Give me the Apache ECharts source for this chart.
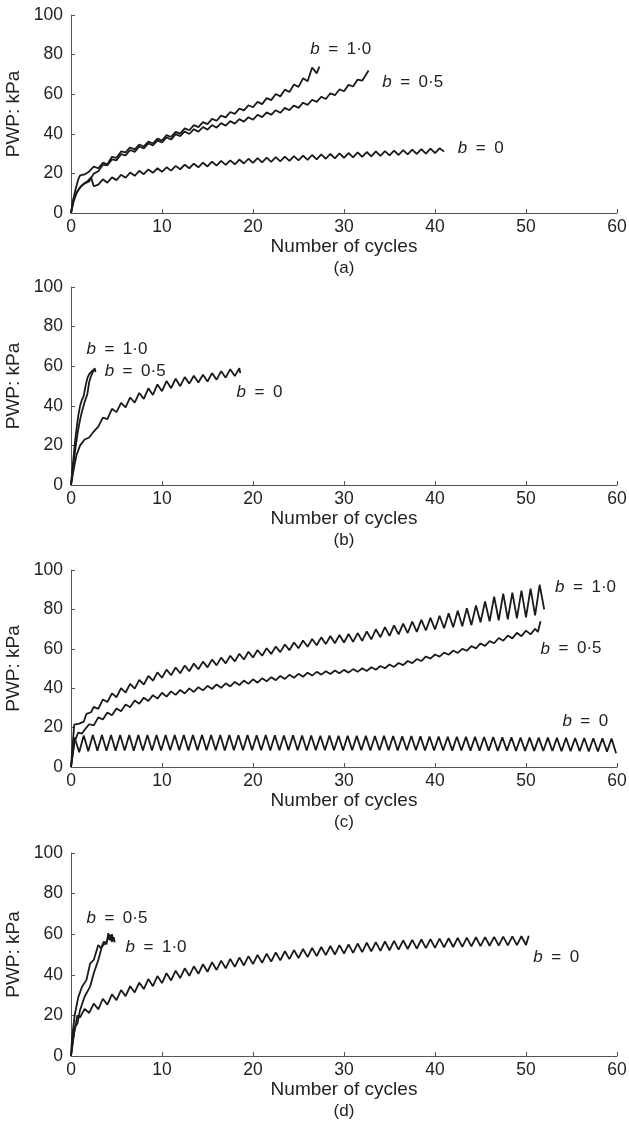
<!DOCTYPE html>
<html>
<head>
<meta charset="utf-8">
<script src="https://cdn.jsdelivr.net/npm/echarts@6/dist/echarts.min.js"></script>
<style>
html,body{margin:0;padding:0;background:#fff;}
#chart{width:629px;height:1128px;}
</style>
</head>
<body>
<div id="chart"></div>
<script>
// ---------- axis / tick data ----------
const X_MIN = 0, X_MAX = 60, X_STEP = 10;
const Y_MIN = 0, Y_MAX = 100, Y_STEP = 20;
const X_NAME = 'Number of cycles';
const Y_NAME = 'PWP: kPa';
const CAPTIONS = ['(a)', '(b)', '(c)', '(d)'];

// ---------- series data ----------
// each series: head points [x,y], then half-cycle samples starting at x0, then tail points
// Panel (a)
const A_B10_HEAD = [[0,0],[0.2,6],[0.5,12],[0.8,17],[1.0,19],[1.5,19.5],[2.0,21]];
const A_B10_X0 = 2.5;
const A_B10 = [23.4,22.6,25.4,24.6,28.4,27.9,31.1,30.6,33.1,32.1,34.6,33.6,36.1,35.1,37.6,36.6,39.3,38.4,41.0,40.1,
  42.7,41.8,44.4,43.4,45.9,44.9,47.5,46.6,49.2,48.3,51.0,50.1,52.7,51.8,54.4,53.4,56.1,55.0,58.0,57.0,
  60.1,58.9,62.3,61.1,64.9,63.7,68.0,66.5,73.5,70.5];
const A_B10_TAIL = [[27.3,74]];

const A_B05_HEAD = [[0,0],[0.3,6],[0.6,10],[1,13],[1.5,15],[2,16]];
const A_B05_X0 = 2.5;
const A_B05 = [19.9,21.1,24.4,24.1,27.1,26.6,29.7,29.1,31.8,30.9,33.6,32.6,35.2,34.1,36.7,35.6,38.2,37.1,39.8,38.8,
  41.2,39.9,42.3,41.1,43.4,42.1,44.4,43.1,45.4,44.1,46.4,45.1,47.4,46.1,48.4,47.1,49.6,48.4,50.8,49.6,
  51.9,50.6,53.1,51.9,54.3,53.1,55.7,54.6,57.2,56.1,58.7,57.6,60.5,59.5,62.4,61.5,64.7,63.9,67.4,66.8,70.5];
const A_B05_TAIL = [[32.7,72]];

const A_B0_HEAD = [[0,0],[0.3,7],[0.7,11],[1.2,14],[1.8,16],[2.2,18],[2.5,13.5]];
const A_B0_X0 = 3.0;
const A_B0 = [14.3,17.0,15.3,18.0,16.6,19.3,17.8,20.4,18.8,21.3,19.6,22.0,20.3,22.6,20.8,23.1,21.4,23.8,22.1,24.4,
  22.6,24.9,23.1,25.4,23.5,25.9,23.9,26.3,24.3,26.6,24.6,27.0,25.0,27.4,25.3,27.7,25.6,28.0,25.8,28.2,
  26.1,28.5,26.3,28.7,26.6,29.0,26.8,29.3,27.1,29.6,27.4,29.8,27.6,30.1,27.9,30.3,28.1,30.6,28.4,30.8,
  28.6,31.1,28.9,31.3,29.1,31.5,29.3,31.8,29.6,32.0,29.8,32.2,30.0,32.5,30.3,32.7,31.0];
const A_B0_TAIL = [];

// Panel (b)
const B_B10_HEAD = [[0,0],[0.2,10],[0.4,20],[0.6,28],[0.8,35],[1.0,40],[1.2,43],[1.4,45],[1.6,50],[1.8,54],[2.0,56],[2.2,55.5],[2.4,58],[2.5,57.5]];
const B_B05_HEAD = [[0,0],[0.25,10],[0.5,19],[0.75,27],[1.0,33],[1.2,37],[1.5,42],[1.8,46],[2.0,52],[2.2,55],[2.4,56],[2.6,59],[2.7,57]];
const B_B0_HEAD = [[0,0],[0.3,8],[0.6,15],[1,20],[1.5,23],[2,24],[2.5,27],[3,29.5]];
const B_B0_X0 = 3.5;
const B_B0 = [34.0,33.3,38.5,36.8,41.5,39.2,44.2,41.6,46.5,43.5,48.8,45.5,50.8,47.4,52.5,48.9,53.7,49.9,54.5,51.2,
  55.2,51.8,55.7,52.3,56.5,53.2,57.5,54.2,58.5,55.0,59.0];
const B_B0_TAIL = [[18.6,56.5]];

// Panel (c)
const C_B10_HEAD = [[0,0],[0.35,21.5],[0.9,22],[1.4,23],[1.7,27],[2.2,27.8]];
const C_B10_X0 = 2.5;
const C_B10 = [30.5,29.5,34.3,33.0,37.4,35.4,40.0,37.8,42.2,39.8,44.2,41.8,46.2,43.8,48.0,45.3,49.4,46.6,50.5,47.6,
  51.5,48.6,52.5,49.6,53.5,50.6,54.5,51.6,55.5,52.6,56.5,53.6,57.5,54.6,58.5,55.6,59.4,56.5,60.3,57.4,
  61.2,58.3,62.2,59.3,63.2,60.3,64.2,61.0,65.0,61.8,65.8,62.4,66.5,62.8,67.0,63.2,67.5,63.5,68.0,64.0,
  68.8,64.8,69.9,65.9,71.0,66.6,71.9,67.3,72.8,68.0,73.8,68.6,74.7,69.3,75.7,69.8,76.8,70.4,78.0,70.9,
  79.3,71.4,80.6,72.0,82.0,73.5,84.0,74.0,86.5,74.5,88.0,75.0,88.5,75.5,89.5,76.0,90.5,77.0,92.5,80.0];
const C_B10_TAIL = [];

const C_B05_HEAD = [[0,0],[0.4,13],[0.8,17.5],[1.2,17],[1.6,19.5]];
const C_B05_X0 = 2.0;
const C_B05 = [21.7,21.1,25.2,24.1,27.7,26.3,29.7,28.3,31.7,30.3,33.7,32.1,35.2,33.5,36.5,34.7,37.7,35.7,38.4,36.6,
  39.1,37.3,39.9,38.1,40.5,38.9,41.2,39.6,41.9,40.2,42.5,40.9,43.2,41.6,43.9,42.2,44.5,42.8,45.0,43.5,
  45.6,44.1,46.2,44.7,46.8,45.3,47.3,45.8,47.9,46.4,48.3,46.9,48.6,47.2,49.0,47.6,49.3,47.9,49.7,48.3,
  50.1,48.7,50.6,49.4,51.3,50.1,52.0,50.8,52.8,51.7,53.8,52.7,54.8,53.8,56.1,55.0,57.1,56.0,58.1,57.0,
  59.1,57.9,60.0,59.0,61.4,60.2,62.7,61.5,63.9,62.8,65.5,64.1,66.7,65.3,68.1,66.4,69.2,67.3,70.2];
const C_B05_TAIL = [[51.3,68.5],[51.6,74]];

const C_B0_HEAD = [[0,0]];
const C_B0_X0 = 0.4;
const C_B0 = [15.0,7.5,16.0,8.0,16.2,8.2,16.3,8.3,16.2,8.3,16.3,8.4,16.2,8.3,16.3,8.4,16.2,8.4,16.3,8.4,
  16.2,8.5,16.3,8.5,16.2,8.4,16.3,8.5,16.2,8.5,16.3,8.5,16.2,8.4,16.2,8.5,16.1,8.5,16.2,8.5,
  16.1,8.5,16.2,8.4,16.1,8.5,16.0,8.5,16.1,8.5,16.0,8.4,16.0,8.5,15.9,8.5,16.0,8.5,15.9,8.4,
  15.9,8.5,15.8,8.5,15.8,8.4,15.7,8.5,15.8,8.5,15.7,8.4,15.6,8.5,15.7,8.5,15.6,8.4,15.5,8.4,
  15.5,8.4,15.4,8.3,15.4,8.4,15.3,8.3,15.3,8.3,15.2,8.3,15.2,8.2,15.1,8.3,15.1,8.2,15.0,8.2,
  15.0,8.2,14.9,8.1,14.9,8.1,14.8,8.0,14.8,8.0,14.7,8.0,14.7,7.9,14.6,7.9,14.6,7.8,14.5,7.0];
const C_B0_TAIL = [];

// Panel (d)
const D_B05_HEAD = [[0,0],[0.1,8],[0.4,20],[0.8,29],[1.2,34],[1.7,37.5],[2.1,45.5],[2.5,47.3],[3.0,54.7],[3.3,53],[3.6,56.3],[3.9,55],[4.1,60.5],[4.3,57],[4.5,60],[4.65,56.5]];
const D_B10_HEAD = [[0,0],[0.4,14],[0.7,16],[1.0,22.7],[1.5,29.3],[2.1,34.2],[2.5,40.8],[3.0,47.3],[3.4,53.9],[3.9,56.3],[4.3,59.6],[4.5,56.3],[4.7,58.5],[4.8,56]];
const D_B0_HEAD = [[0,0],[0.3,10],[0.7,20]];
const D_B0_X0 = 1.0;
const D_B0 = [19.0,23.2,21.2,25.8,23.0,28.2,25.3,30.4,27.5,32.5,29.5,34.4,31.3,36.2,33.0,37.9,34.4,39.4,35.9,40.8,
  37.2,42.0,38.4,43.2,39.5,44.2,40.5,45.2,41.5,46.2,42.4,47.0,43.2,47.8,43.9,48.5,44.6,49.2,45.3,49.8,
  45.9,50.4,46.5,51.0,47.1,51.6,47.7,52.2,48.2,52.7,48.7,53.2,49.2,53.7,49.7,54.2,50.0,54.6,50.4,55.0,
  50.8,55.4,51.2,55.8,51.5,56.1,51.8,56.4,52.1,56.7,52.4,57.0,52.7,57.2,52.9,57.4,53.1,57.6,53.3,57.8,
  53.5,58.0,53.7,58.2,53.8,58.3,54.0,58.5,54.1,58.6,54.3,58.7,54.4,58.8,54.5,58.9,54.6,59.0,54.7];
const D_B0_TAIL = [[50.3,59.2]];

// ---------- curve labels: [b value, x, y] ----------
const LABELS_A = [['1·0',26.3,82.5],['0·5',34.2,66],['0',42.5,32.7]];
const LABELS_B = [['1·0',1.7,68.7],['0·5',3.7,57.2],['0',18.2,46.6]];
const LABELS_C = [['1·0',53.2,91],['0·5',51.6,60],['0',54,23]];
const LABELS_D = [['0·5',1.7,67.8],['1·0',6.0,53.6],['0',50.8,48.7]];

// ---------- build ----------
function curve(head, x0, vals, tail) {
  const pts = head.slice();
  if (vals) vals.forEach((v, i) => pts.push([x0 + 0.5 * i, v]));
  if (tail) tail.forEach(p => pts.push(p));
  return pts;
}
const PANELS = [
  { top: 15, height: 198, labels: LABELS_A, curves: [
    curve(A_B10_HEAD, A_B10_X0, A_B10, A_B10_TAIL),
    curve(A_B05_HEAD, A_B05_X0, A_B05, A_B05_TAIL),
    curve(A_B0_HEAD, A_B0_X0, A_B0, A_B0_TAIL)] },
  { top: 287, height: 198, labels: LABELS_B, curves: [
    curve(B_B10_HEAD), curve(B_B05_HEAD),
    curve(B_B0_HEAD, B_B0_X0, B_B0, B_B0_TAIL)] },
  { top: 570, height: 197, labels: LABELS_C, curves: [
    curve(C_B10_HEAD, C_B10_X0, C_B10, C_B10_TAIL),
    curve(C_B05_HEAD, C_B05_X0, C_B05, C_B05_TAIL),
    curve(C_B0_HEAD, C_B0_X0, C_B0, C_B0_TAIL)] },
  { top: 853, height: 203, labels: LABELS_D, curves: [
    curve(D_B05_HEAD), curve(D_B10_HEAD),
    curve(D_B0_HEAD, D_B0_X0, D_B0, D_B0_TAIL)] }
];

const FONT = '"Liberation Sans", Arial, Helvetica, sans-serif';
const TXT = '#222';
const AX = '#555';
const LINE = '#1a1a1a';

const chart = echarts.init(document.getElementById('chart'), null, { renderer: 'canvas' });
const series = [];
PANELS.forEach((p, i) => {
  p.curves.forEach(c => series.push({
    type: 'line', xAxisIndex: i, yAxisIndex: i, data: c,
    showSymbol: false, symbol: 'none', smooth: false,
    lineStyle: { color: LINE, width: 1.8 }, silent: true
  }));
  series.push({
    type: 'scatter', xAxisIndex: i, yAxisIndex: i, silent: true,
    symbolSize: 0, itemStyle: { color: TXT },
    data: p.labels.map(l => ({ value: [l[1], l[2]], name: l[0] })),
    label: {
      show: true, position: 'right', distance: 0, color: TXT, opacity: 1,
      formatter: prm => '{i|b}{t|\u2002=\u2002' + prm.name + '}',
      rich: {
        i: { fontStyle: 'italic', fontSize: 17, fontFamily: FONT, color: TXT },
        t: { fontSize: 17, fontFamily: FONT, color: TXT }
      }
    },
    z: 10
  });
});

const option = {
  animation: false,
  backgroundColor: '#fff',
  textStyle: { fontFamily: FONT },
  title: PANELS.map((p, i) => ({
    text: CAPTIONS[i], left: 344, top: p.top + p.height + 47, textAlign: 'center', padding: 0,
    textStyle: { fontSize: 17, fontWeight: 'normal', color: TXT, fontFamily: FONT }
  })),
  grid: PANELS.map(p => ({ left: 71, right: 12, top: p.top, height: p.height, containLabel: false, outerBoundsMode: 'none' })),
  xAxis: PANELS.map((p, i) => ({
    gridIndex: i, type: 'value', min: X_MIN, max: X_MAX, interval: X_STEP,
    name: X_NAME, nameLocation: 'middle', nameGap: 17,
    nameTextStyle: { fontSize: 19, color: TXT, fontFamily: FONT },
    axisLine: { show: true, lineStyle: { color: AX, width: 1 } },
    axisTick: { show: true, inside: true, length: 4, lineStyle: { color: AX } },
    axisLabel: { fontSize: 17.5, margin: 5, color: TXT, fontFamily: FONT },
    splitLine: { show: false }
  })),
  yAxis: PANELS.map((p, i) => ({
    gridIndex: i, type: 'value', min: Y_MIN, max: Y_MAX, interval: Y_STEP,
    name: Y_NAME, nameLocation: 'middle', nameGap: 44,
    nameTextStyle: { fontSize: 19, color: TXT, fontFamily: FONT },
    axisLine: { show: true, lineStyle: { color: AX, width: 1 } },
    axisTick: { show: true, inside: true, length: 4, lineStyle: { color: AX } },
    axisLabel: { fontSize: 17.5, margin: 8, color: TXT, fontFamily: FONT },
    splitLine: { show: false }
  })),
  series: series
};
chart.setOption(option);
</script>
</body>
</html>
